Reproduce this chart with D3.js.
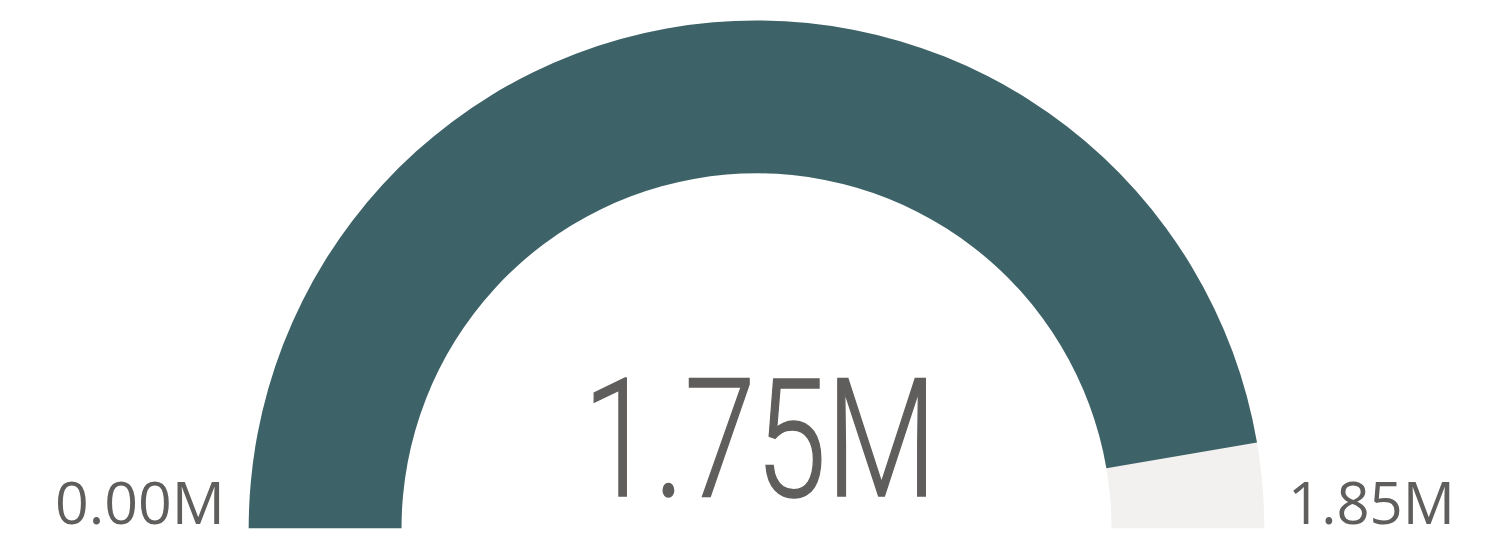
<!DOCTYPE html>
<html><head><meta charset="utf-8">
<script src="https://cdn.jsdelivr.net/npm/d3@7"></script>
<style>html,body{margin:0;padding:0;background:#fff;overflow:hidden}</style>
</head><body>
<svg id="c" width="1492" height="534"></svg>
<script>
const minValue = 0;
const maxValue = 1.85;
const currentValue = 1.75;
const minLabel = "0.00M";
const maxLabel = "1.85M";
const valueLabel = "1.75M";

const svg = d3.select("#c");
const cx = 756.5, cy = 528.3, rOuter = 507.8, rInner = 355;
const angle = d3.scaleLinear().domain([minValue, maxValue]).range([-Math.PI/2, Math.PI/2]);
const arc = d3.arc().innerRadius(rInner).outerRadius(rOuter);
const g = svg.append("g").attr("transform", `translate(${cx},${cy})`);
g.append("path").attr("d", arc({startAngle: angle(minValue), endAngle: angle(maxValue)})).attr("fill", "#F2F1EF");
g.append("path").attr("d", arc({startAngle: angle(minValue), endAngle: angle(currentValue)})).attr("fill", "#3D6369");

function fitText(x, y, width, size, family, weight, str, sw) {
  const t = svg.append("text").attr("font-family", family).attr("font-weight", weight)
    .attr("font-size", size).attr("fill", "#605E5C").text(str);
  if (sw) t.attr("stroke", "#605E5C").attr("stroke-width", sw).attr("stroke-linejoin", "miter");
  const w = t.node().getComputedTextLength();
  const s = width / w;
  t.attr("transform", `translate(${x},${y}) scale(${s},1)`);
  return t;
}
fitText(583, 496, 354, 166, "Roboto", 300, valueLabel, 1.6);
fitText(55, 524, 170, 58, "Open Sans", 400, minLabel, 0);
fitText(1288, 524, 167, 58, "Open Sans", 400, maxLabel, 0);
</script>
</body></html>
